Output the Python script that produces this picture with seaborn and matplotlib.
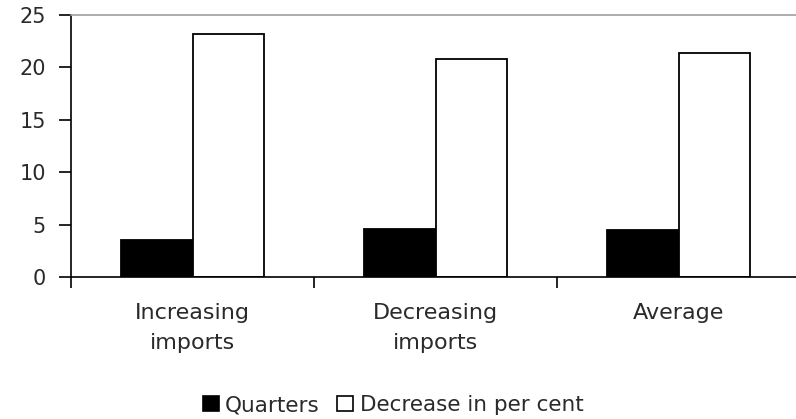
import matplotlib
matplotlib.use("Agg")
import matplotlib.pyplot as plt
from matplotlib.patches import Patch
from matplotlib.ticker import FixedLocator
import pandas as pd
import seaborn as sns

# Data
categories = ["Increasing\nimports", "Decreasing\nimports", "Average"]
quarters = [3.5, 4.6, 4.5]
decrease_pct = [23.2, 20.8, 21.4]
series_names = ["Quarters", "Decrease in per cent"]
y_ticks = [0, 5, 10, 15, 20, 25]

df = pd.DataFrame({
    "category": categories * 2,
    "series": [series_names[0]] * 3 + [series_names[1]] * 3,
    "value": quarters + decrease_pct,
})

sns.set_style("white")
plt.rcParams["font.family"] = ["DejaVu Sans"]

W, H = 796, 419
fig = plt.figure(figsize=(W / 100, H / 100), dpi=100)
ax = fig.add_axes([71 / W, 142 / H, 729 / W, 262 / H])

colors = {series_names[0]: "black", series_names[1]: "white"}
sns.barplot(data=df, x="category", y="value", hue="series", order=categories,
            hue_order=series_names, palette=colors, width=0.59,
            edgecolor="black", linewidth=1.3, saturation=1, ax=ax, legend=False)

ax.set_xlim(-0.5, 2.5)
ax.set_ylim(0, 25)
ax.set_yticks(y_ticks)
ax.set_xlabel("")
ax.set_ylabel("")

# Spines: black axes on left/bottom, gray frame line at top
for side in ("left", "bottom"):
    ax.spines[side].set_visible(True)
    ax.spines[side].set_color("black")
    ax.spines[side].set_linewidth(1.2)
ax.spines["top"].set_visible(True)
ax.spines["top"].set_color("#a0a0a0")
ax.spines["top"].set_linewidth(1.2)
ax.spines["right"].set_visible(False)

ax.tick_params(axis="y", direction="out", length=9, width=1.2, color="black",
               labelsize=15, pad=9, left=True, labelcolor="#2a2a2a")
ax.tick_params(axis="x", which="major", length=0, labelsize=16, pad=19,
               labelcolor="#2a2a2a")
ax.set_xticks(range(len(categories)))
ax.set_xticklabels(categories, linespacing=1.6)
ax.xaxis.set_minor_locator(FixedLocator([-0.5, 0.5, 1.5, 2.5]))
ax.tick_params(axis="x", which="minor", direction="out", length=8, width=1.2,
               color="black", bottom=True)

handles = [Patch(facecolor=colors[n], edgecolor="black", linewidth=1.2, label=n)
           for n in series_names]
fig.legend(handles=handles, loc="center", bbox_to_anchor=(393 / W, 1 - 405 / H),
           ncol=2, frameon=False, fontsize=15.5, handlelength=0.75,
           handleheight=0.75, handletextpad=0.3, columnspacing=0.8,
           labelcolor="#2a2a2a")

fig.savefig("out.png", dpi=100)
